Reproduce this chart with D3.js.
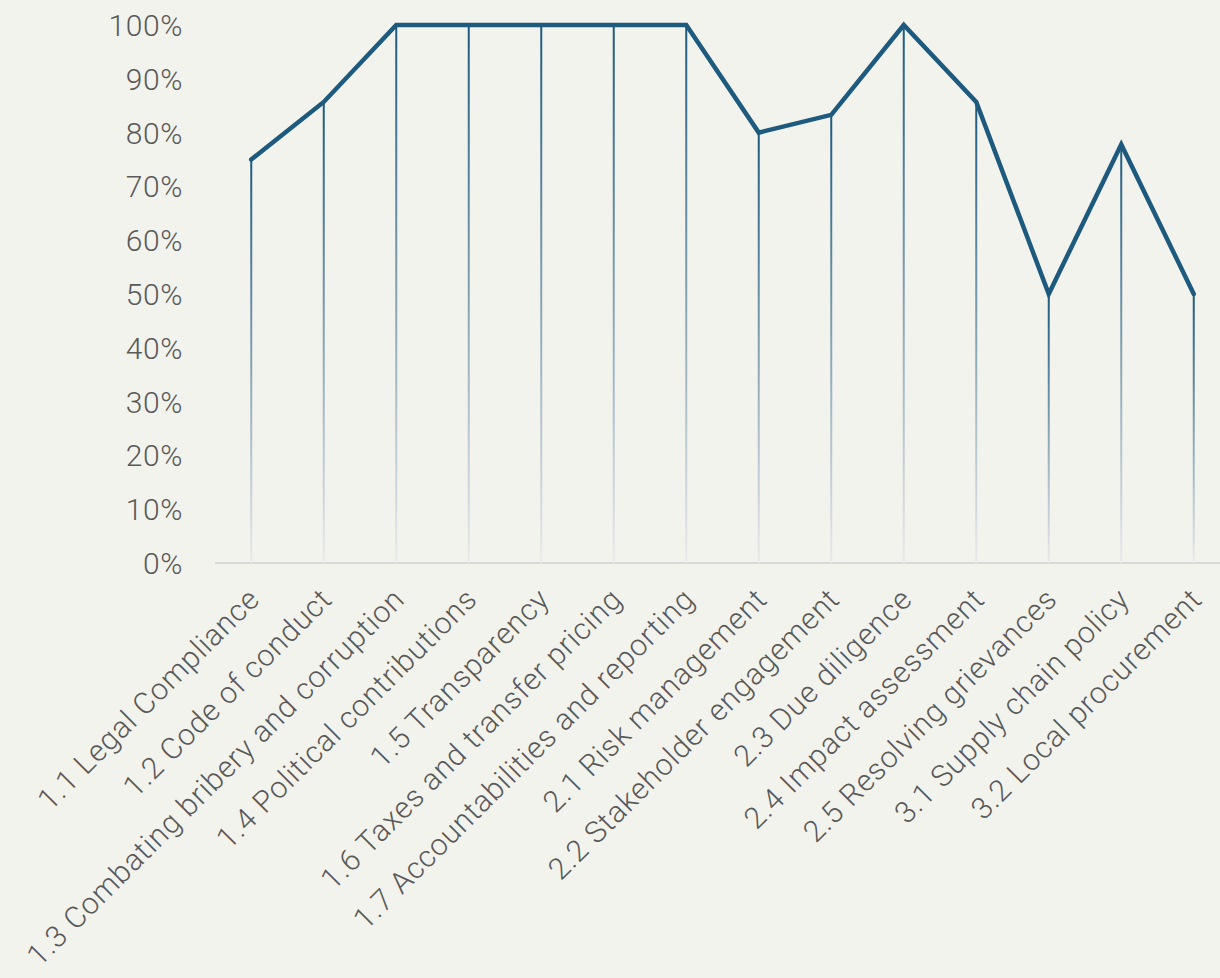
<!DOCTYPE html>
<html>
<head>
<meta charset="utf-8">
<script src="https://cdn.jsdelivr.net/npm/d3@7"></script>
<style>
  html, body { margin: 0; padding: 0; background: #f3f3ee; }
  svg { display: block; }
  text { font-family: Roboto, "Open Sans", sans-serif; font-weight: 300; fill: #595959; }
</style>
</head>
<body>
<svg id="chart" width="1220" height="978"></svg>
<script>
const categories = [
  "1.1 Legal Compliance",
  "1.2 Code of conduct",
  "1.3 Combating bribery and corruption",
  "1.4 Political contributions",
  "1.5 Transparency",
  "1.6 Taxes and transfer pricing",
  "1.7 Accountabilities and reporting",
  "2.1 Risk management",
  "2.2 Stakeholder engagement",
  "2.3 Due diligence",
  "2.4 Impact assessment",
  "2.5 Resolving grievances",
  "3.1 Supply chain policy",
  "3.2 Local procurement"
];
const values = [0.75, 0.857, 1.0, 1.0, 1.0, 1.0, 1.0, 0.80, 0.833, 1.0, 0.857, 0.50, 0.778, 0.50];
const yTicks = [0, 0.1, 0.2, 0.3, 0.4, 0.5, 0.6, 0.7, 0.8, 0.9, 1.0];

const svg = d3.select("#chart");
const W = 1220, H = 978;
svg.append("rect").attr("width", W).attr("height", H).attr("fill", "#f3f3ee");

const x = d3.scalePoint().domain(categories).range([215, 1230]).padding(0.5);
const y = d3.scaleLinear().domain([0, 1]).range([563, 25]);

const defs = svg.append("defs");
const grad = defs.append("linearGradient")
  .attr("id", "dropGrad").attr("x1", 0).attr("y1", 0).attr("x2", 0).attr("y2", 1);
grad.append("stop").attr("offset", "0%").attr("stop-color", "#1d5a7e");
grad.append("stop").attr("offset", "100%").attr("stop-color", "#e9eaea");

// y axis labels
const yAxis = d3.axisLeft(y).tickValues(yTicks).tickFormat(d3.format(".0%")).tickSize(0).tickPadding(0);
const gy = svg.append("g").attr("transform", "translate(183,0)").call(yAxis);
gy.select(".domain").remove();
gy.selectAll("text").attr("font-size", 30).attr("dy", "0.35em")
  .style("letter-spacing", "0.6px")
  .style("font-family", "Roboto, sans-serif").style("font-weight", 300).attr("fill", "#595959");

// x axis baseline
svg.append("line").attr("x1", 215).attr("x2", 1220).attr("y1", y(0)).attr("y2", y(0))
  .attr("stroke", "#d9d9d9").attr("stroke-width", 2);

// drop lines
svg.append("g").selectAll("rect").data(categories).join("rect")
  .attr("x", d => x(d) - 1)
  .attr("width", 2)
  .attr("y", (d, i) => y(values[i]))
  .attr("height", (d, i) => y(0) - y(values[i]))
  .attr("fill", "url(#dropGrad)");

// line
const line = d3.line().x((d, i) => x(categories[i])).y(d => y(d));
svg.append("path").datum(values).attr("d", line)
  .attr("fill", "none").attr("stroke", "#1d5a7e").attr("stroke-width", 4.5)
  .attr("stroke-linejoin", "miter").attr("stroke-linecap", "round");

// x labels
svg.append("g").selectAll("text").data(categories).join("text")
  .attr("transform", d => `translate(${x(d) + 10},${y(0) + 38}) rotate(-45)`)
  .attr("text-anchor", "end")
  .attr("font-size", 30)
  .style("letter-spacing", "0.8px")
  .text(d => d);
</script>
</body>
</html>
